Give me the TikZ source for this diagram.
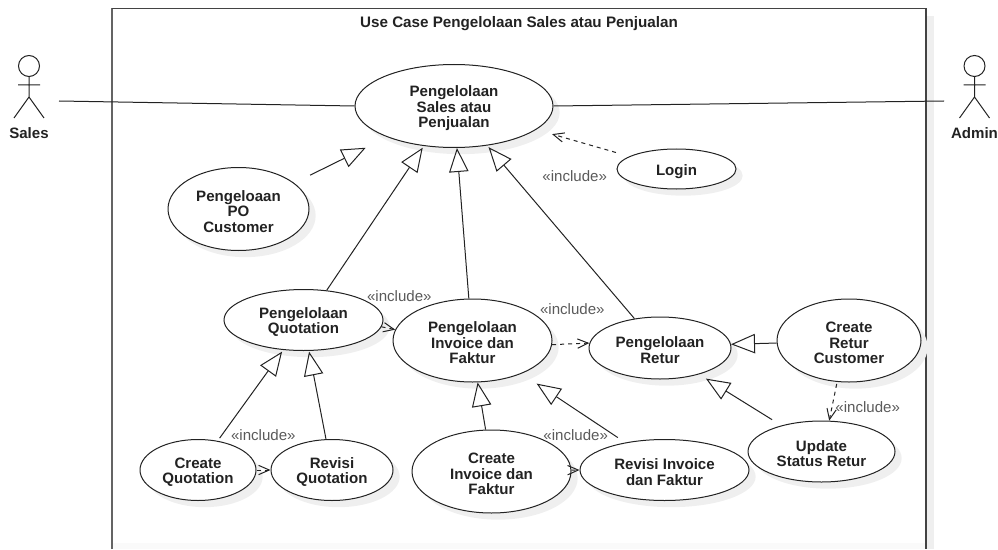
\documentclass[tikz,border=0pt]{standalone}
\usepackage{fontspec}
\usepackage{xcolor}
\usepackage{tikz}
\usetikzlibrary{shapes.geometric,arrows.meta,shadows}
\setmainfont{Liberation Sans}
\definecolor{inkdark}{HTML}{222222}
\definecolor{inkgray}{HTML}{5A5A5A}
\definecolor{shadegray}{HTML}{EFEFEF}
\newcommand{\topgap}{\rule{0pt}{11.5pt}}
\tikzset{
  usecase/.style 2 args={ellipse,draw=inkdark,fill=white,line width=.75pt,inner sep=0pt,align=center,text=inkdark,
    minimum width=#1*.75pt,minimum height=#2*.75pt,font=\fontsize{11.3}{11.6}\selectfont\bfseries,
    drop shadow={shadow xshift=5pt,shadow yshift=-5pt,fill=shadegray,opacity=1}},
  genline/.style={draw=inkdark,line width=.75pt,-{Triangle[open,length=18pt,width=14.6pt]}},
  incline/.style={draw=inkdark,line width=.75pt,dashed,dash pattern=on 3pt off 3pt,-{Straight Barb[length=8pt,width=7pt]}},
  inclabel/.style={text=inkgray,inner sep=0pt,font=\fontsize{11.3}{12}\selectfont},
  actorlabel/.style={text=inkdark,inner sep=0pt,font=\fontsize{11.3}{12}\selectfont\bfseries},
  assoc/.style={draw=inkdark,line width=.75pt}
}
\begin{document}
\begin{tikzpicture}[x=.75pt,y=-.75pt]
\useasboundingbox (0,0) rectangle (998,549);
\fill[shadegray] (926,16) rectangle (934,549);
\fill[black!2] (113,543) rectangle (926,549);
\draw[inkdark!70,line width=1.1pt] (112,549) -- (112,8.5);
\draw[inkdark!85,line width=.8pt] (112,8.5) -- (926,8.5) -- (926,549);
\node[font=\fontsize{11.4}{12}\selectfont\bfseries,text=inkdark,inner sep=0pt] (title) at (519,24) {Use Case Pengelolaan Sales atau Penjualan};

\draw[inkdark,line width=.75pt] (29,66) circle (10.5);
\draw[inkdark,line width=.75pt] (29,77) -- (29,97) (18,85) -- (40,85) (14,118) -- (29,97) -- (44,118);
\node[actorlabel] (sales) at (29,133) {Sales};
\coordinate (salesend) at (59,101);
\draw[inkdark,line width=.75pt] (974.5,66) circle (10.5);
\draw[inkdark,line width=.75pt] (974.5,77) -- (974.5,97) (963.5,85) -- (985.5,85) (959.5,118) -- (974.5,97) -- (989.5,118);
\node[actorlabel] (admin) at (974.5,133) {Admin};
\coordinate (adminend) at (944,101);

\node[usecase={198}{83}] (main) at (454,106) {\topgap Pengelolaan\\Sales atau\\Penjualan};
\node[usecase={141}{83}] (po) at (238.5,209) {\topgap Pengeloaan\\PO\\Customer};
\node[usecase={119}{40}] (login) at (676.5,169) {\topgap Login};
\node[usecase={159}{61}] (quotation) at (303.5,320) {\topgap Pengelolaan\\Quotation};
\node[usecase={159}{83}] (invoice) at (472.5,340.5) {\topgap Pengelolaan\\Invoice dan\\Faktur};
\node[usecase={142}{62}] (retur) at (660,348) {\topgap Pengelolaan\\Retur};
\node[usecase={144}{83}] (createretur) at (849,340.5) {\topgap Create\\Retur\\Customer};
\node[usecase={147}{61}] (updateretur) at (821.5,451.5) {\topgap Update\\Status Retur};
\node[usecase={169}{61}] (revisiinvoice) at (664.5,470) {\topgap Revisi Invoice\\dan Faktur};
\node[usecase={159}{83}] (createinvoice) at (491.5,471.5) {\topgap Create\\Invoice dan\\Faktur};
\node[usecase={116}{61}] (createquot) at (198,470) {\topgap Create\\Quotation};
\node[usecase={122}{61}] (revisiquot) at (332,470) {\topgap Revisi\\Quotation};

\draw[assoc] (salesend) -- (main.west);
\draw[assoc] (main.east) -- (adminend);
\draw[genline,shorten <=13.3pt,shorten >=18pt] (po.25.4) -- (main.205.8);
\draw[genline,shorten >=1.5pt] (quotation.52) -- (main.233.9);
\draw[genline] (invoice.95.5) -- (main.274.8);
\draw[genline,shorten >=1.5pt] (retur.131) -- (main.310);
\draw[genline] (createretur.182.4) -- (retur.3.2);
\draw[genline,shorten <=8.2pt,shorten >=6pt] (updateretur.147.3) -- (retur.326.4);
\draw[genline] (createinvoice.98.9) -- (invoice.277.6);
\draw[genline,shorten <=6.7pt,shorten >=13.5pt] (revisiinvoice.145.9) -- (invoice.326.1);
\draw[genline,shorten <=2.5pt,shorten >=1.5pt] (createquot.56.6) -- (quotation.236.6);
\draw[genline,shorten >=.5pt] (revisiquot.101.1) -- (quotation.280.3);

\draw[incline,shorten <=10.4pt,shorten >=12.3pt] (login.165) -- (main.344.7);
\draw[incline] (quotation.355.6) -- (invoice.172.2);
\draw[incline] (invoice.357.8) -- (retur.176.8);
\draw[incline,shorten <=1.5pt] (createretur.254.3) -- (updateretur.76.1);
\draw[incline] (createinvoice.1) -- (revisiinvoice.west);
\draw[incline] (createquot.east) -- (revisiquot.west);

\node[inclabel] (inclogin) at (574.7,175.7) {«include»};
\node[inclabel] (incquot) at (399.3,295.7) {«include»};
\node[inclabel] (incinvoice) at (572.3,309) {«include»};
\node[inclabel] (inccreatequot) at (263.3,435) {«include»};
\node[inclabel] (inccreateinvoice) at (575.7,435) {«include»};
\node[inclabel] (incretur) at (867.7,407) {«include»};
\end{tikzpicture}
\end{document}
